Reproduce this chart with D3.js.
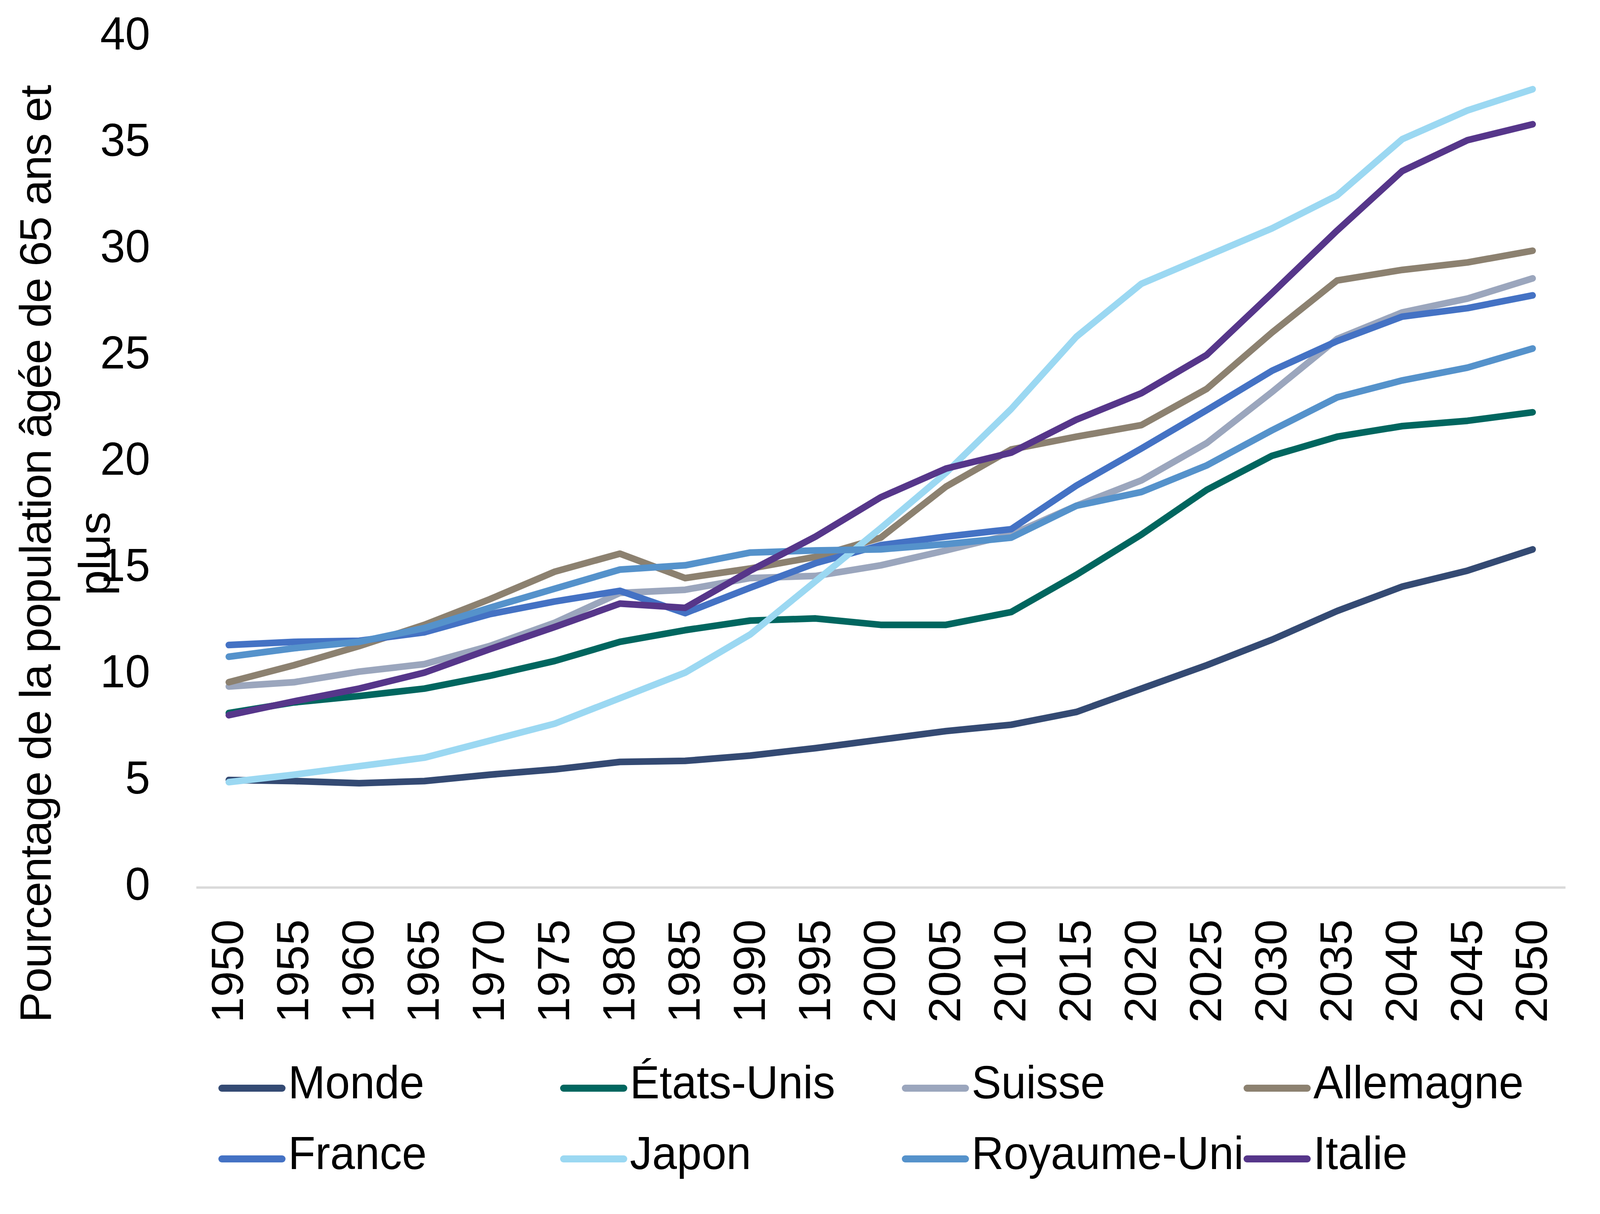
<!DOCTYPE html>
<html>
<head>
<meta charset="utf-8">
<script src="https://cdn.jsdelivr.net/npm/d3@7"></script>
<style>
  html, body { margin: 0; padding: 0; background: #fff; overflow: hidden; }
  #chart { display: block; width: 100vw; height: 100vh; }
  text { font-family: "Liberation Sans", Arial, sans-serif; fill: #000; }
</style>
</head>
<body>
<svg id="chart" viewBox="0 0 4242 3107" preserveAspectRatio="none"></svg>
<script>
// Years on the x axis
const years = ['1950', '1955', '1960', '1965', '1970', '1975', '1980', '1985', '1990', '1995', '2000',
  '2005', '2010', '2015', '2020', '2025', '2030', '2035', '2040', '2045', '2050'];

// Share of population aged 65+ (%)
const monde = [5.05, 5.0, 4.9, 5.0, 5.3, 5.55, 5.9, 5.95, 6.2, 6.55, 6.95, 7.35, 7.65, 8.25, 9.35, 10.45, 11.65, 13.0, 14.15, 14.9, 15.9];
const etatsUnis = [8.2, 8.7, 9.0, 9.35, 9.95, 10.65, 11.55, 12.1, 12.55, 12.65, 12.35, 12.35, 12.95, 14.7, 16.6, 18.7, 20.3, 21.2, 21.7, 21.95, 22.35];
const suisse = [9.45, 9.65, 10.15, 10.5, 11.35, 12.45, 13.85, 14.0, 14.55, 14.65, 15.15, 15.85, 16.6, 17.95, 19.15, 20.9, 23.3, 25.8, 27.05, 27.7, 28.65];
const allemagne = [9.65, 10.45, 11.35, 12.35, 13.55, 14.85, 15.7, 14.55, 15.0, 15.55, 16.45, 18.85, 20.6, 21.2, 21.75, 23.45, 26.1, 28.55, 29.05, 29.4, 29.95];
const france = [11.4, 11.55, 11.6, 12.0, 12.85, 13.45, 13.95, 12.9, 14.1, 15.25, 16.1, 16.5, 16.85, 18.9, 20.65, 22.45, 24.3, 25.7, 26.85, 27.25, 27.85];
const japon = [4.95, 5.3, 5.7, 6.1, 6.9, 7.7, 8.9, 10.1, 11.9, 14.4, 16.9, 19.5, 22.5, 25.9, 28.4, 29.7, 31.0, 32.55, 35.2, 36.55, 37.55];
const royaumeUni = [10.85, 11.25, 11.55, 12.2, 13.15, 14.05, 14.95, 15.15, 15.75, 15.85, 15.9, 16.15, 16.45, 17.95, 18.6, 19.85, 21.5, 23.05, 23.85, 24.45, 25.35];
const italie = [8.1, 8.75, 9.35, 10.1, 11.2, 12.25, 13.35, 13.15, 14.9, 16.5, 18.35, 19.7, 20.45, 22.0, 23.25, 25.05, 27.95, 30.9, 33.7, 35.15, 35.9];

const seriesNames = ['Monde', 'États-Unis', 'Suisse', 'Allemagne', 'France', 'Japon', 'Royaume-Uni', 'Italie'];
const seriesValues = [monde, etatsUnis, suisse, allemagne, france, japon, royaumeUni, italie];
const seriesColors = ['#344A73', '#00665F', '#9BA6BD', '#8C8170', '#4472C4', '#9BD8F2', '#5592CB', '#56368A'];

const yTicks = [0, 5, 10, 15, 20, 25, 30, 35, 40];
const yTitleLines = ['Pourcentage de la population âgée de 65 ans et', 'plus'];

const svg = d3.select('#chart');
svg.append('rect').attr('width', 4242).attr('height', 3107).attr('fill', '#fff');

const fontSize = 119;

// Scales
const x = d3.scaleBand().domain(years).range([520, 4150]).padding(0);
const cx = d => x(d) + x.bandwidth() / 2;
const y = d3.scaleLinear().domain([0, 40]).range([2271, 95]);

// X axis
const xAxis = svg.append('g')
  .attr('transform', 'translate(0,' + y(0) + ')')
  .call(d3.axisBottom(x).tickSize(0).tickSizeOuter(0).tickPadding(0));
xAxis.select('.domain').attr('stroke', '#D9D9D9').attr('stroke-width', 6);
xAxis.selectAll('.tick text')
  .attr('font-size', fontSize)
  .attr('font-family', '"Liberation Sans", Arial, sans-serif')
  .attr('fill', '#000')
  .attr('text-anchor', 'end')
  .attr('transform', 'translate(0,' + (2353 - y(0)) + ') rotate(-90)')
  .attr('x', 0)
  .attr('y', 0)
  .attr('dy', '0.32em');

// Y axis (labels only)
const yAxis = svg.append('g')
  .attr('transform', 'translate(398,0)')
  .call(d3.axisLeft(y).tickValues(yTicks).tickSize(0).tickPadding(0));
yAxis.select('.domain').remove();
yAxis.selectAll('.tick text')
  .attr('font-size', fontSize)
  .attr('font-family', '"Liberation Sans", Arial, sans-serif')
  .attr('fill', '#000')
  .attr('x', 0)
  .attr('dy', 31);

// Y axis title, two lines rotated
const title = svg.append('text')
  .attr('transform', 'translate(135,1417) rotate(-90)')
  .attr('text-anchor', 'middle')
  .attr('font-size', 117);
title.selectAll('tspan')
  .data(yTitleLines)
  .enter().append('tspan')
  .attr('x', 0)
  .attr('y', (d, i) => i * 156)
  .text(d => d);
title.select('tspan').attr('textLength', 2400).attr('lengthAdjust', 'spacing');

// Lines
const line = d3.line()
  .x((d, i) => cx(years[i]))
  .y(d => y(d));

svg.append('g')
  .selectAll('path')
  .data(seriesValues)
  .enter().append('path')
  .attr('d', d => line(d))
  .attr('fill', 'none')
  .attr('stroke', (d, i) => seriesColors[i])
  .attr('stroke-width', 17)
  .attr('stroke-linecap', 'round')
  .attr('stroke-linejoin', 'round');

// Legend: 2 rows x 4 columns
const legend = svg.append('g');
const item = legend.selectAll('g')
  .data(seriesNames)
  .enter().append('g')
  .attr('transform', (d, i) => 'translate(' + (588 + (i % 4) * 906) + ',' + (2785 + Math.floor(i / 4) * 181) + ')');

item.append('line')
  .attr('x1', 0)
  .attr('x2', 160)
  .attr('y1', 0)
  .attr('y2', 0)
  .attr('stroke', (d, i) => seriesColors[i])
  .attr('stroke-width', 18)
  .attr('stroke-linecap', 'round');

item.append('text')
  .attr('x', 176)
  .attr('y', 26)
  .attr('font-size', 118)
  .text(d => d);
</script>
</body>
</html>
